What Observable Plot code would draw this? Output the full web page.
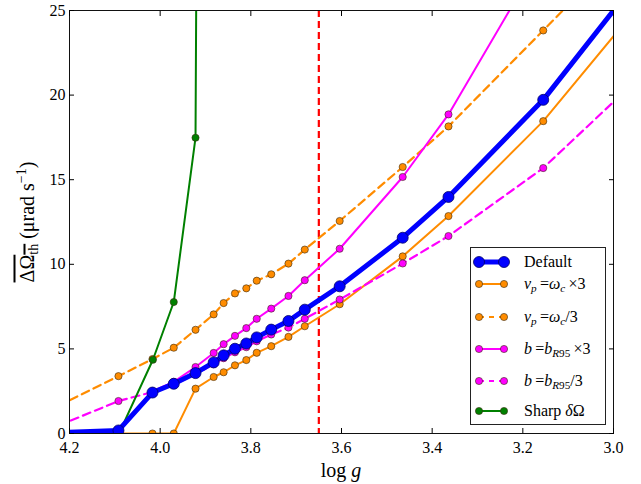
<!DOCTYPE html>
<html>
<head>
<meta charset="utf-8">
<script src="https://cdn.jsdelivr.net/npm/d3@7"></script>
<script src="https://cdn.jsdelivr.net/npm/@observablehq/plot@0.6"></script>
<style>
  html, body { margin: 0; padding: 0; background: #fff; }
  #wrap { position: relative; width: 641px; height: 484px; font-family: "Liberation Serif", "Times New Roman", Times, Tinos, "DejaVu Serif", "Noto Serif", serif; color: #000; }
  #wrap svg { display: block; }
  #wrap svg text { font-family: "Liberation Serif", "Times New Roman", Times, Tinos, "DejaVu Serif", "Noto Serif", serif; }
  .ylab { position: absolute; left: 27px; top: 222px; transform: translate(-50%, -50%) rotate(-90deg); white-space: nowrap; font-size: 20px; }
  .xlab { position: absolute; left: 341px; top: 470px; transform: translate(-50%, -50%); white-space: nowrap; font-size: 20px; }
  .ov { text-decoration: overline; }
  .legend { position: absolute; left: 470px; top: 247px; width: 136px; height: 178px; box-sizing: border-box; border: 1.2px solid #222; background: #fff; }
  .lg-row { position: absolute; left: 0; height: 20px; }
  .lg-txt { position: absolute; left: 53px; top: 0; line-height: 20px; font-size: 16px; white-space: nowrap; }
  sub { font-size: 0.7em; vertical-align: -0.3em; line-height: 0; }
  sup { font-size: 0.7em; vertical-align: 0.55em; line-height: 0; }
</style>
</head>
<body>
<div id="wrap"></div>
<script>
// ---- data (log g on x, mean ΔΩ_th in μrad/s on y) ----
const xTicks = [4.2, 4.0, 3.8, 3.6, 3.4, 3.2, 3.0];
const yTicks = [0, 5, 10, 15, 20, 25];
const criticalLogg = [3.65];

const defaultX = [4.25, 4.092, 4.017, 3.970, 3.922, 3.882, 3.860, 3.835, 3.810, 3.787, 3.755, 3.717, 3.681, 3.604, 3.465, 3.364, 3.155, 2.95];
const defaultY = [0.03, 0.18, 2.42, 2.94, 3.57, 4.2, 4.62, 5.01, 5.32, 5.68, 6.14, 6.65, 7.32, 8.70, 11.57, 13.98, 19.72, 26.7];

const nuTimes3X = [4.25, 4.092, 4.017, 3.970, 3.922, 3.882, 3.860, 3.835, 3.810, 3.787, 3.755, 3.717, 3.681, 3.604, 3.465, 3.364, 3.155, 2.95];
const nuTimes3Y = [0, 0, 0, 0, 2.65, 3.34, 3.62, 4.03, 4.34, 4.77, 5.16, 5.71, 6.34, 7.64, 10.47, 12.85, 18.46, 25.1];

const nuDiv3X = [4.25, 4.092, 4.017, 3.970, 3.922, 3.882, 3.860, 3.835, 3.810, 3.787, 3.755, 3.717, 3.681, 3.604, 3.465, 3.364, 3.155, 2.95];
const nuDiv3Y = [1.3, 3.39, 4.4, 5.07, 6.13, 7.04, 7.71, 8.28, 8.58, 9.03, 9.41, 10.04, 10.87, 12.56, 15.75, 18.15, 23.82, 29.4];

const bTimes3X = [4.25, 4.092, 4.017, 3.970, 3.922, 3.882, 3.860, 3.835, 3.810, 3.787, 3.755, 3.717, 3.681, 3.604, 3.465, 3.364, 3.155];
const bTimes3Y = [0.03, 0.18, 2.5, 3.05, 3.93, 4.76, 5.28, 5.77, 6.23, 6.78, 7.38, 8.13, 9.06, 10.92, 15.16, 18.86, 28.4];

const bDiv3X = [4.25, 4.092, 4.017, 3.970, 3.922, 3.882, 3.860, 3.835, 3.810, 3.787, 3.755, 3.717, 3.681, 3.604, 3.465, 3.364, 3.155, 2.95];
const bDiv3Y = [0.18, 1.92, 2.45, 2.9, 3.5, 4.1, 4.45, 4.8, 5.1, 5.45, 5.85, 6.26, 6.78, 7.92, 10.05, 11.67, 15.69, 20.86];

const sharpX = [4.09, 4.016, 3.970, 3.922, 3.882];
const sharpY = [0.05, 4.36, 7.77, 17.48, 230];

// ---- styling ----
const C = { blue: "#0000ff", orange: "#ff8c00", magenta: "#ff00ff", green: "#008000", red: "#ff0000" };
const SERIF = "'Liberation Serif', 'Times New Roman', Times, Tinos, 'DejaVu Serif', 'Noto Serif', serif";

const tbl = (xs, ys) => xs.map((x, i) => ({ x, y: ys[i] }));

const series = [
  { key: "nuTimes3", data: tbl(nuTimes3X, nuTimes3Y), color: C.orange, dash: null, lw: 2, r: 3.6 },
  { key: "nuDiv3", data: tbl(nuDiv3X, nuDiv3Y), color: C.orange, dash: "8,5", lw: 2.2, r: 3.6 },
  { key: "bTimes3", data: tbl(bTimes3X, bTimes3Y), color: C.magenta, dash: null, lw: 2, r: 3.6 },
  { key: "bDiv3", data: tbl(bDiv3X, bDiv3Y), color: C.magenta, dash: "8,5", lw: 2.2, r: 3.6 },
  { key: "sharp", data: tbl(sharpX, sharpY), color: C.green, dash: null, lw: 2, r: 3.6 },
  { key: "default", data: tbl(defaultX, defaultY), color: C.blue, dash: null, lw: 5, r: 5.5 }
];

const seriesMarks = series.flatMap(s => [
  Plot.line(s.data, { x: "x", y: "y", stroke: s.color, strokeWidth: s.lw, strokeDasharray: s.dash, clip: true }),
  Plot.dot(s.data, { x: "x", y: "y", r: s.r, fill: s.color, stroke: s.key === "default" ? "#000066" : "#3a2a10", strokeWidth: s.key === "default" ? 0.8 : 0.6, clip: true })
]);

const chart = Plot.plot({
  width: 641,
  height: 484,
  marginLeft: 69,
  marginRight: 28,
  marginTop: 10,
  marginBottom: 51,
  style: { fontFamily: SERIF, fontSize: "16px", color: "#000", background: "#fff", overflow: "visible" },
  x: { domain: [4.2, 3.0] },
  y: { domain: [0, 25] },
  marks: [
    Plot.ruleX(criticalLogg, { stroke: C.red, strokeWidth: 2.2, strokeDasharray: "7,4" }),
    ...seriesMarks,
    Plot.frame({ stroke: "#111", strokeWidth: 1 }),
    Plot.axisX({ anchor: "bottom", ticks: xTicks, tickSize: -5, tickPadding: 13, tickFormat: d3.format(".1f"), label: null }),
    Plot.axisX({ anchor: "top", ticks: xTicks, tickSize: -5, tickFormat: () => "", label: null }),
    Plot.axisY({ anchor: "left", ticks: yTicks, tickSize: -5, tickPadding: 9, tickFormat: d3.format("d"), label: null }),
    Plot.axisY({ anchor: "right", ticks: yTicks, tickSize: -5, tickFormat: () => "", label: null })
  ]
});

const wrap = document.getElementById("wrap");
wrap.appendChild(chart);

// axis labels
const ylab = document.createElement("div");
ylab.className = "ylab";
ylab.innerHTML = '<span class="ov">ΔΩ<sub>th</sub></span> (μrad s<sup>−1</sup>)';
wrap.appendChild(ylab);

const xlab = document.createElement("div");
xlab.className = "xlab";
xlab.innerHTML = 'log <i>g</i>';
wrap.appendChild(xlab);

// legend
const legendLabels = [
  "Default",
  "<i>ν</i><sub><i>p</i></sub>&#8201;=<i>ω</i><sub><i>c</i></sub>&#8201;×3",
  "<i>ν</i><sub><i>p</i></sub>&#8201;=<i>ω</i><sub><i>c</i></sub>/3",
  "<i>b</i>&#8201;=<i>b</i><sub><i>R</i>95</sub>&#8201;×3",
  "<i>b</i>&#8201;=<i>b</i><sub><i>R</i>95</sub>/3",
  "Sharp <i>δ</i>Ω"
];
const legendSeries = ["default", "nuTimes3", "nuDiv3", "bTimes3", "bDiv3", "sharp"];
const rowTops = [14, 36, 69, 101, 133, 163];

const legend = document.createElement("div");
legend.className = "legend";
wrap.appendChild(legend);

legendSeries.forEach((key, i) => {
  const s = series.find(d => d.key === key);
  const row = document.createElement("div");
  row.className = "lg-row";
  row.style.top = (rowTops[i] - 10) + "px";
  row.style.width = "134px";
  const sw = d3.create("svg").attr("width", 45).attr("height", 20).style("position", "absolute").style("left", "0px").style("top", "0px");
  sw.append("line").attr("x1", 8).attr("x2", 33).attr("y1", 10).attr("y2", 10)
    .attr("stroke", s.color).attr("stroke-width", s.lw).attr("stroke-dasharray", s.dash ? "5,5" : null);
  [8, 33].forEach(cx => sw.append("circle").attr("cx", cx).attr("cy", 10).attr("r", s.r)
    .attr("fill", s.color).attr("stroke", key === "default" ? "#000066" : "#3a2a10").attr("stroke-width", key === "default" ? 0.8 : 0.6));
  row.appendChild(sw.node());
  const t = document.createElement("div");
  t.className = "lg-txt";
  t.innerHTML = legendLabels[i];
  row.appendChild(t);
  legend.appendChild(row);
});
</script>
</body>
</html>
